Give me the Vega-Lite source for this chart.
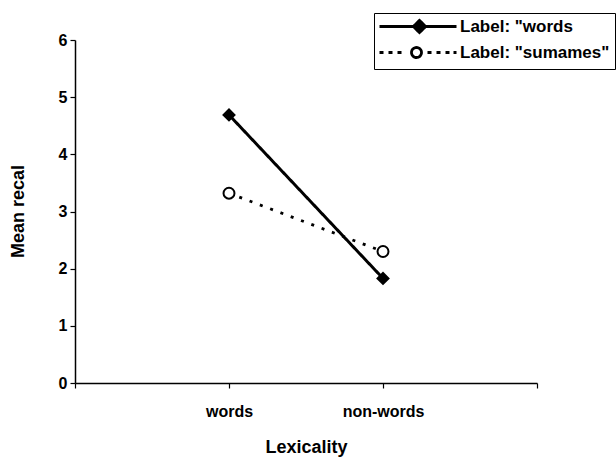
{
  "$schema": "https://vega.github.io/schema/vega-lite/v6.json",
  "width": 462,
  "height": 343,
  "autosize": "none",
  "padding": {"left": 75, "top": 40, "right": 79, "bottom": 74},
  "background": "white",
  "config": {"view": {"stroke": null}, "font": "Liberation Sans"},
  "data": {
    "values": [
      {"lex": "words", "series": "Label: \"words", "recall": 4.69},
      {"lex": "non-words", "series": "Label: \"words", "recall": 1.83},
      {"lex": "words", "series": "Label: \"sumames\"", "recall": 3.32},
      {"lex": "non-words", "series": "Label: \"sumames\"", "recall": 2.3}
    ]
  },
  "layer": [
    {
      "mark": {"type": "line", "color": "black"},
      "encoding": {
        "x": {
          "field": "lex",
          "type": "ordinal",
          "scale": {"type": "point", "domain": ["start", "words", "non-words", "end"], "padding": 0},
          "title": "Lexicality",
          "axis": {
            "labelExpr": "datum.value === 'words' || datum.value === 'non-words' ? datum.value : ''",
            "labelAngle": 0,
            "domainColor": "black",
            "domainWidth": 1.5,
            "tickColor": "black",
            "tickWidth": 1.2,
            "tickSize": 5,
            "labelFont": "Liberation Sans",
            "labelFontSize": 16,
            "labelFontWeight": "bold",
            "labelColor": "black",
            "labelPadding": 15,
            "titleFont": "Liberation Sans",
            "titleFontSize": 18,
            "titleFontWeight": "bold",
            "titleColor": "black",
            "titleY": 64,
            "titleBaseline": "middle"
          }
        },
        "y": {
          "field": "recall",
          "type": "quantitative",
          "scale": {"domain": [0, 6]},
          "title": "Mean recal",
          "axis": {
            "values": [0, 1, 2, 3, 4, 5, 6],
            "format": "d",
            "grid": false,
            "domainColor": "black",
            "domainWidth": 1.5,
            "tickColor": "black",
            "tickWidth": 1.2,
            "tickSize": 5,
            "labelFont": "Liberation Sans",
            "labelFontSize": 16,
            "labelFontWeight": "bold",
            "labelColor": "black",
            "labelPadding": 3,
            "titleFont": "Liberation Sans",
            "titleFontSize": 18,
            "titleFontWeight": "bold",
            "titleColor": "black",
            "titleX": -57,
            "titleY": 171,
            "titleBaseline": "middle"
          }
        },
        "strokeDash": {
          "field": "series",
          "type": "nominal",
          "scale": {"domain": ["Label: \"sumames\"", "Label: \"words"], "range": [[3, 8], [1, 0]]},
          "legend": null
        },
        "strokeWidth": {
          "field": "series",
          "type": "nominal",
          "scale": {"domain": ["Label: \"words", "Label: \"sumames\""], "range": [3, 2.8]},
          "legend": {
            "title": null,
            "orient": "none",
            "legendX": 299,
            "legendY": -27,
            "padding": 5,
            "strokeColor": "black",
            "fillColor": "white",
            "symbolSize": 4,
            "labelOffset": 64,
            "labelFont": "Liberation Sans",
            "labelFontSize": 17,
            "labelFontWeight": "bold",
            "labelColor": "black",
            "labelLimit": 300,
            "rowPadding": 2,
            "symbolStrokeColor": "black",
            "encode": {
              "symbols": {
                "update": {
                  "shape": {"signal": "datum.index === 0 ? 'M-8,0H69M32,-6L38,0L32,6L26,0Z' : 'M-8,0H-4M1,0H5M10,0H14M34,0A5,5 0 1 1 24,0A5,5 0 1 1 34,0M40,0H44M49,0H53M58,0H62M66,0H69'"},
                  "fill": {"signal": "datum.index === 0 ? 'black' : 'white'"},
                  "stroke": {"value": "black"},
                  "strokeDash": {"value": [1, 0]},
                  "size": {"value": 4},
                  "opacity": {"value": 1}
                }
              }
            }
          }
        }
      }
    },
    {
      "mark": {"type": "point", "filled": true, "stroke": "black", "strokeWidth": 2, "opacity": 1, "size": 120},
      "encoding": {
        "x": {"field": "lex", "type": "ordinal"},
        "y": {"field": "recall", "type": "quantitative"},
        "shape": {
          "field": "series",
          "type": "nominal",
          "scale": {"domain": ["Label: \"sumames\"", "Label: \"words"], "range": ["circle", "diamond"]},
          "legend": null
        },
        "fill": {
          "field": "series",
          "type": "nominal",
          "scale": {"domain": ["Label: \"sumames\"", "Label: \"words"], "range": ["white", "black"]},
          "legend": null
        }
      }
    }
  ]
}
